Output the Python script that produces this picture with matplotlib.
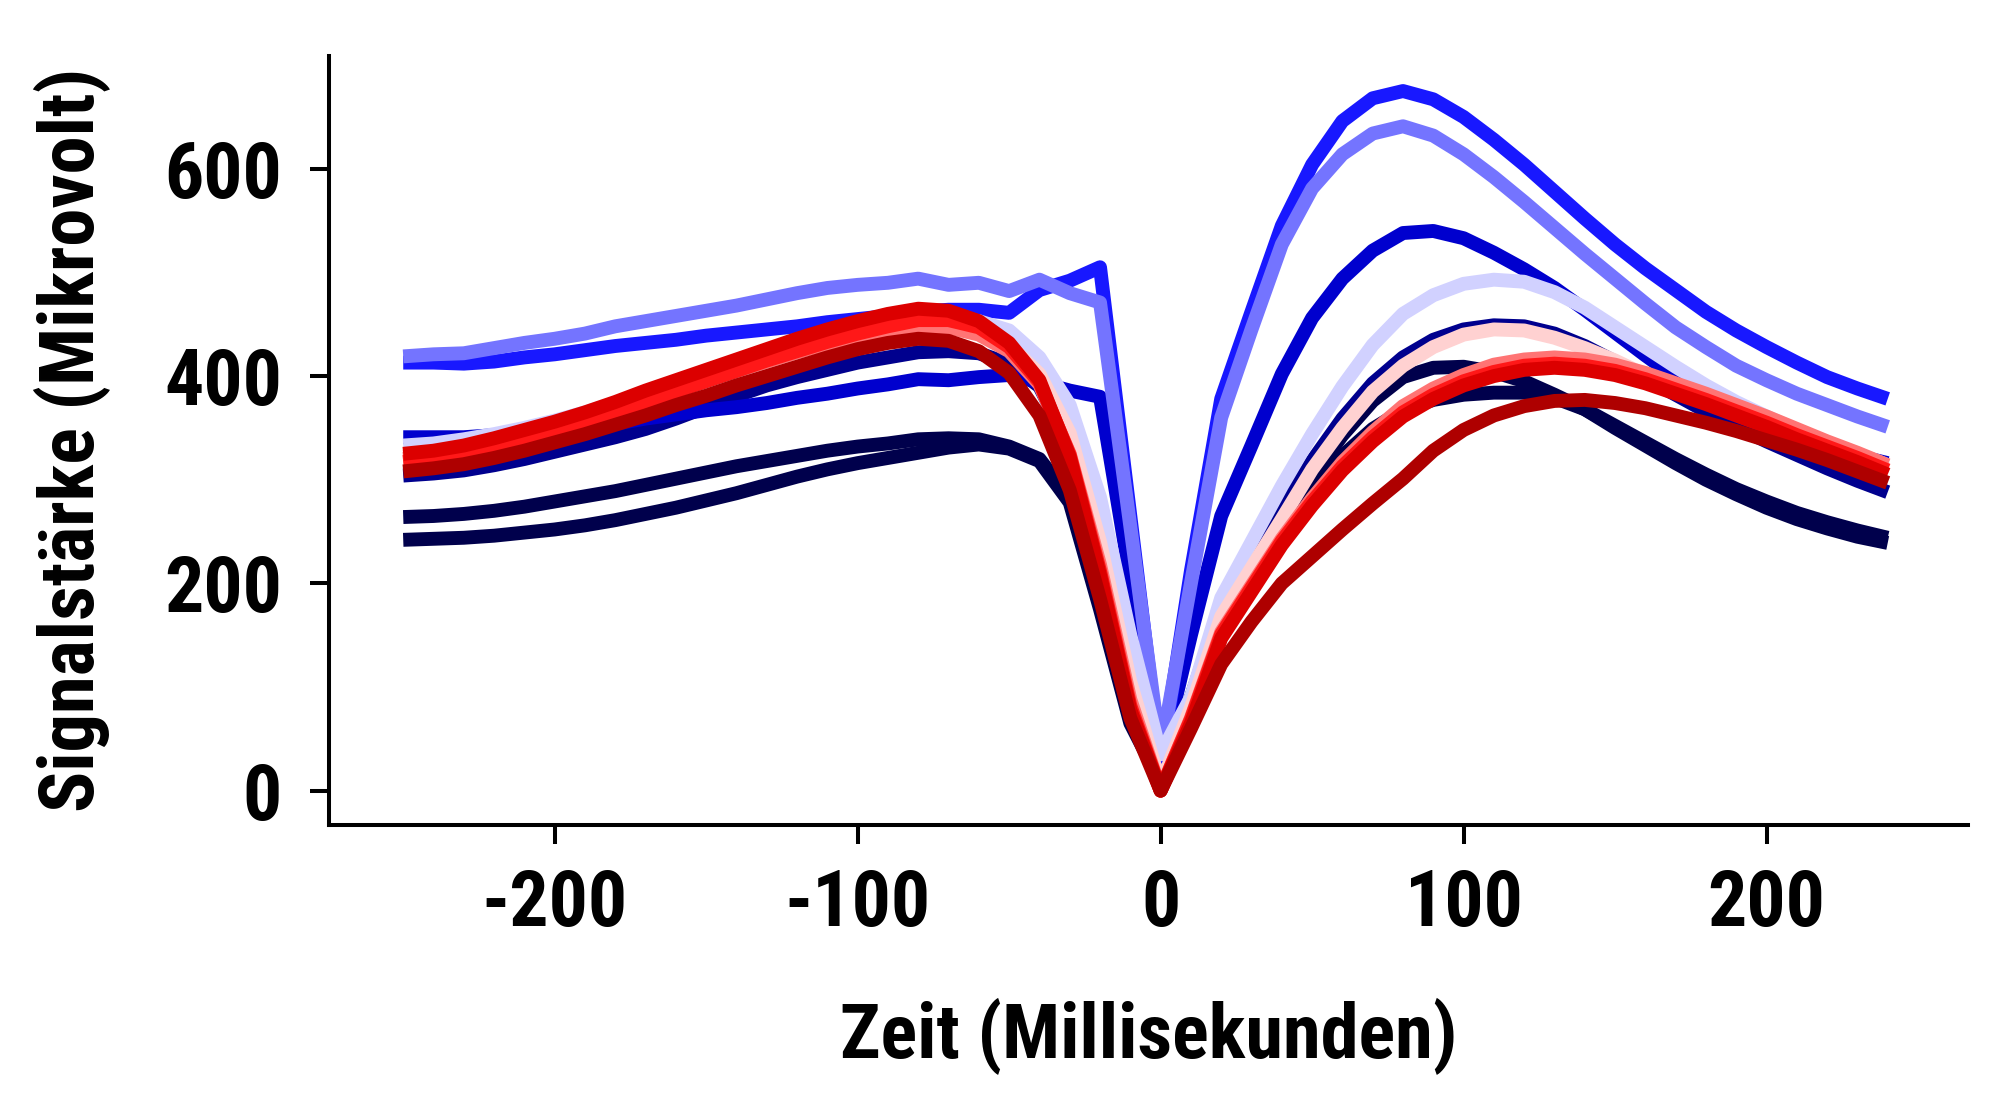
import matplotlib

matplotlib.use('Agg')

import numpy as np
import matplotlib.pyplot as plt

plt.rcParams['font.family'] = ['Roboto Condensed', 'Liberation Sans Narrow', 'Roboto', 'DejaVu Sans']
plt.rcParams['axes.unicode_minus'] = False

# time axis in ms, 10 ms steps
zeit = list(range(-250, 250, 10))

# one list per curve, values in microvolt
navy_a = [264, 265, 267, 270, 274, 279, 284, 289, 295, 301, 307, 313, 318, 323, 328, 332, 335, 339, 340, 339,
          332, 320, 282, 180, 70, 10,
          80, 165, 212, 258, 303, 343, 376, 399, 408, 409, 404, 395, 382, 368, 352, 336, 320, 305, 291, 279,
          268, 259, 251, 244]
navy_b = [242, 243, 244, 246, 249, 252, 256, 261, 267, 273, 280, 287, 295, 303, 310, 316, 321, 326, 331, 334,
          330, 318, 278, 175, 65, 8,
          75, 158, 204, 250, 290, 323, 349, 367, 377, 382, 384, 384, 379, 368, 350, 333, 316, 300, 286, 273,
          262, 253, 245, 239]
dunkelblau = [304, 306, 309, 314, 320, 327, 334, 341, 349, 359, 370, 381, 391, 399, 406, 413, 418, 423, 424, 422,
              412, 390, 332, 225, 100, 15,
              90, 178, 224, 271, 318, 359, 393, 418, 435, 445, 449, 448, 441, 429, 414, 398, 382, 366, 351, 337,
              324, 311, 299, 288]
blau = [341, 341, 341, 343, 345, 347, 350, 354, 359, 363, 367, 370, 374, 379, 383, 388, 392, 397, 396, 399,
        401, 394, 386, 380, 205, 28,
        150, 265, 333, 402, 456, 494, 521, 538, 540, 533, 519, 503, 485, 464, 442, 420, 399, 380, 364, 351,
        340, 331, 323, 316]
hellblau = [413, 413, 412, 414, 418, 421, 425, 429, 432, 435, 439, 442, 445, 448, 452, 455, 458, 462, 464, 464,
            461, 483, 492, 505, 265, 25,
            212, 378, 462, 545, 604, 646, 668, 675, 667, 650, 628, 604, 578, 552, 527, 504, 483, 462, 444, 428,
            413, 399, 388, 378]
blaulila = [419, 421, 422, 427, 432, 436, 441, 448, 453, 458, 463, 468, 474, 480, 485, 488, 490, 494, 488, 490,
            482, 493, 480, 471, 255, 37,
            200, 360, 445, 527, 581, 614, 634, 641, 632, 614, 592, 568, 543, 518, 494, 470, 447, 428, 410, 396,
            383, 372, 361, 351]
lavendel = [333, 335, 339, 344, 350, 357, 365, 374, 383, 392, 401, 410, 418, 426, 434, 441, 447, 452, 455, 453,
            444, 418, 372, 283, 150, 35,
            90, 186, 240, 294, 344, 390, 430, 460, 478, 489, 493, 491, 481, 466, 447, 428, 409, 391, 375, 361,
            348, 336, 325, 314]
rosa = [322, 325, 329, 335, 342, 350, 359, 368, 378, 388, 398, 407, 416, 425, 433, 440, 446, 450, 450, 444,
        430, 402, 345, 240, 105, 5,
        80, 168, 215, 262, 310, 350, 385, 410, 428, 440, 445, 444, 437, 427, 415, 401, 388, 375, 363, 352,
        341, 330, 320, 310]
lachs = [320, 323, 327, 333, 340, 348, 357, 366, 376, 386, 396, 405, 414, 423, 431, 438, 444, 448, 447, 440,
         424, 392, 325, 218, 88, 0,
         70, 153, 198, 243, 282, 317, 346, 371, 388, 401, 411, 416, 418, 416, 411, 403, 393, 383, 372, 361,
         349, 337, 326, 314]
hellrot = [317, 320, 325, 331, 338, 346, 355, 365, 375, 385, 395, 405, 415, 424, 433, 441, 448, 454, 454, 447,
           428, 394, 324, 212, 82, 0,
           69, 151, 196, 241, 279, 313, 341, 365, 382, 395, 404, 410, 412, 410, 405, 397, 387, 377, 366, 355,
           343, 332, 321, 309]
rot = [325, 328, 333, 340, 348, 356, 365, 375, 386, 396, 406, 416, 426, 436, 445, 453, 460, 465, 463, 453,
       432, 396, 322, 208, 78, 0,
       65, 147, 192, 237, 275, 309, 337, 361, 378, 391, 400, 406, 408, 406, 401, 393, 383, 373, 362, 351,
       339, 328, 317, 305]
dunkelrot = [308, 311, 315, 321, 328, 336, 344, 353, 362, 372, 381, 391, 400, 409, 418, 426, 432, 436, 434, 424,
             403, 362, 290, 185, 70, 0,
             60, 122, 163, 200, 226, 252, 277, 301, 328, 348, 362, 371, 376, 377, 374, 369, 362, 355, 347, 338,
             329, 319, 308, 297]

kurven = [navy_a, navy_b, dunkelblau, blau, hellblau, blaulila, lavendel, rosa, lachs, hellrot, rot, dunkelrot]
farben = ["#00004c", "#00004c", "#00008e", "#0000ce", "#1818ff", "#7474ff",
          "#d1d1ff", "#ffd1d1", "#ff7474", "#ff1818", "#dc0000", "#ae0000"]

fig = plt.figure(figsize=(20, 10.94), dpi=100)
ax = fig.add_axes([0.1645, 0.246, 0.8195, 0.703])

for werte, farbe in zip(kurven, farben):
    ax.plot(zeit, werte, color=farbe, linewidth=10,
            solid_joinstyle='round', solid_capstyle='butt')

ax.set_xlim(-274.5, 266.5)
ax.set_ylim(-33, 709)
ax.set_xticks([-200, -100, 0, 100, 200])
ax.set_yticks([0, 200, 400, 600])

for side in ["top", "right"]:
    ax.spines[side].set_visible(False)
for side in ["left", "bottom"]:
    ax.spines[side].set_linewidth(2.9)
    ax.spines[side].set_color("black")

ax.tick_params(axis="both", length=14, width=2.9, color="black", labelsize=56)
ax.tick_params(axis="x", pad=17)
ax.tick_params(axis="y", pad=20)
for lab in ax.get_xticklabels() + ax.get_yticklabels():
    lab.set_fontweight("bold")

ax.set_xlabel("Zeit (Millisekunden)", fontsize=55, fontweight="bold", labelpad=40)
ax.set_ylabel("Signalstärke (Mikrovolt)", fontsize=55, fontweight="bold", labelpad=38)

plt.savefig("out.png", dpi=100, facecolor="white")
